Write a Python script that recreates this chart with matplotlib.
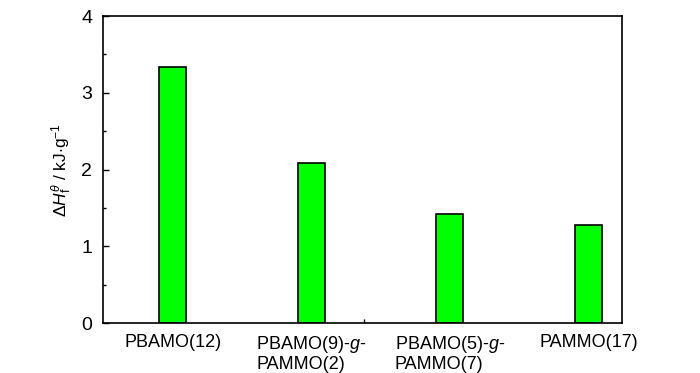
import numpy as np
import matplotlib
matplotlib.use('Agg')
import matplotlib.pyplot as plt
from matplotlib.ticker import MultipleLocator

plt.rcParams['font.family'] = ['Liberation Sans', 'DejaVu Sans']
plt.rcParams['mathtext.fontset'] = 'custom'
plt.rcParams['mathtext.rm'] = 'Liberation Sans'
plt.rcParams['mathtext.it'] = 'Liberation Sans:italic'

samples = ['PBAMO(12)', 'PBAMO(9)-$\\it{g}$-\nPAMMO(2)',
           'PBAMO(5)-$\\it{g}$-\nPAMMO(7)', 'PAMMO(17)']
dHf = [3.33, 2.09, 1.42, 1.28]

x = np.arange(len(samples))

fig = plt.figure(figsize=(7, 3.73), dpi=100)
ax = fig.add_axes([0.1476, 0.134, 0.7405, 0.823])

ax.bar(x, dHf, width=0.195, color='#00ff00', edgecolor='black', linewidth=1.2)

ax.set_xlim(-0.5, 3.24)
ax.set_ylim(0, 4)
ax.yaxis.set_major_locator(MultipleLocator(1))
ax.yaxis.set_minor_locator(MultipleLocator(0.5))

ax.set_xticks(x)
ax.set_xticklabels(samples, fontsize=13, linespacing=1.05, multialignment='left')
ax.set_xticks([1.38], minor=True)
ax.tick_params(axis='x', which='major', length=0, pad=8)
ax.tick_params(axis='x', which='minor', direction='in', length=3, width=1)
ax.tick_params(axis='y', which='major', direction='in', length=4, width=1,
               labelsize=14, pad=8)
ax.tick_params(axis='y', which='minor', direction='in', length=2.5, width=1)

for sp in ax.spines.values():
    sp.set_linewidth(1.2)

ax.set_ylabel(r'$\Delta H_\mathrm{f}^{\theta}$ / kJ$\cdot$g$^{-1}$', fontsize=12.5, labelpad=5)

fig.savefig('out.png', dpi=100)
